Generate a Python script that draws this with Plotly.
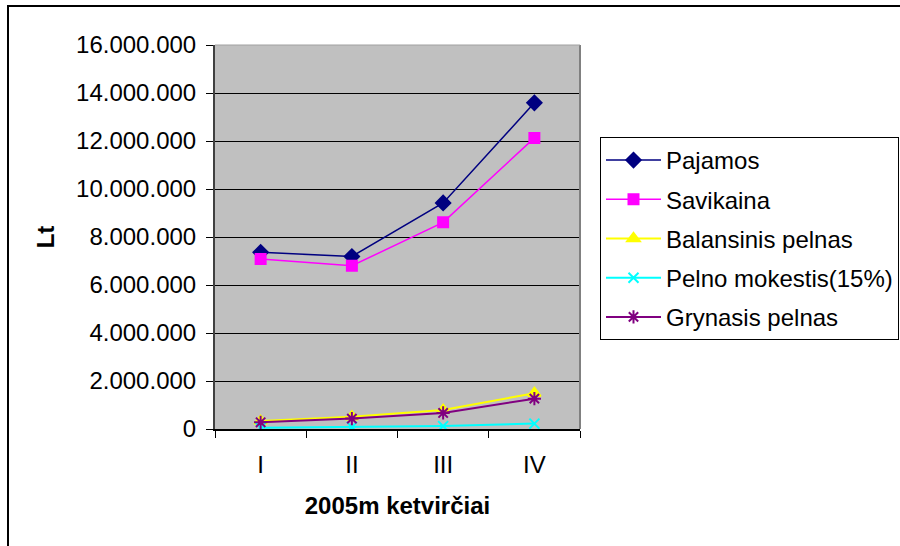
import plotly.graph_objects as go

# Quarterly figures, Lt
quarters = ["I", "II", "III", "IV"]
pajamos = [7360000, 7190000, 9420000, 13590000]
savikaina = [7080000, 6800000, 8610000, 12130000]
balansinis_pelnas = [330000, 510000, 790000, 1490000]
pelno_mokestis = [50000, 77000, 120000, 225000]
grynasis_pelnas = [280000, 433000, 670000, 1265000]

y_ticks = [0, 2000000, 4000000, 6000000, 8000000, 10000000, 12000000, 14000000, 16000000]

W, H = 900, 546
PL, PR, PT, PB = 215, 580, 45, 429   # plot area in pixels


def px_x(x):
    return (x - PL) / (PR - PL)


def px_y(y):
    return (PB - y) / (PB - PT)


series = [
    ("Pajamos", pajamos, "#000080", "diamond", 11, 1.5),
    ("Savikaina", savikaina, "#FF00FF", "square", 10, 1.5),
    ("Balansinis pelnas", balansinis_pelnas, "#FFFF00", "triangle-up", 11, 2),
    ("Pelno mokestis(15%)", pelno_mokestis, "#00FFFF", "x-thin-open", 10, 2),
    ("Grynasis pelnas", grynasis_pelnas, "#800080", "asterisk-open", 11, 2),
]

fig = go.Figure()
for i, (name, vals, color, symbol, msize, lw) in enumerate(series):
    fig.add_trace(go.Scatter(
        x=quarters, y=vals, name=name, mode="lines+markers",
        legendgroup=f"g{i}",
        line=dict(color=color, width=lw),
        marker=dict(symbol=symbol, size=msize, color=color,
                    line=dict(color=color, width=2)),
    ))

font_family = "Liberation Sans, Arial, sans-serif"

fig.update_layout(
    width=W, height=H,
    margin=dict(l=PL, r=W - PR, t=PT, b=H - PB, autoexpand=False),
    paper_bgcolor="white",
    plot_bgcolor="#C0C0C0",
    separators=",.",
    font=dict(family=font_family, color="black", size=22),
    showlegend=True,
    legend=dict(
        x=px_x(600), y=px_y(137), xanchor="left", yanchor="top",
        bgcolor="white", bordercolor="black", borderwidth=1,
        font=dict(size=24, family=font_family),
        itemwidth=55,
        traceorder="grouped", tracegroupgap=5,
    ),
    xaxis=dict(
        type="category",
        tickson="boundaries",
        ticks="outside", ticklen=7, tickcolor="black", tickwidth=1,
        ticklabelstandoff=13,
        showline=True, linecolor="black", linewidth=2, mirror=False,
        showgrid=False,
        tickfont=dict(size=24),
        title=dict(text="<b>2005m ketvirčiai</b>", font=dict(size=24), standoff=20),
        range=[-0.5, 3.5],
    ),
    yaxis=dict(
        range=[0, 16000000],
        tickvals=y_ticks,
        tickformat=",d",
        ticks="outside", ticklen=7, tickcolor="black", tickwidth=1,
        ticklabelstandoff=5,
        showline=True, linecolor="#404040", linewidth=2,
        showgrid=True, gridcolor="black", gridwidth=1,
        zeroline=False,
        tickfont=dict(size=24),
        title=dict(text="<b>Lt</b>", font=dict(size=24), standoff=15),
    ),
    shapes=[
        # right/top edges of the plot area
        dict(type="line", xref="paper", yref="paper", x0=1, x1=1, y0=0, y1=1,
             line=dict(color="#808080", width=2)),
        dict(type="line", xref="paper", yref="paper", x0=0, x1=1, y0=1, y1=1,
             line=dict(color="#A0A0A0", width=1)),
        # outer chart frame
        dict(type="rect", xref="paper", yref="paper",
             x0=px_x(8), x1=px_x(910), y0=px_y(6), y1=px_y(556),
             line=dict(color="black", width=2), layer="above"),
    ],
)

fig.write_html("out.html")
